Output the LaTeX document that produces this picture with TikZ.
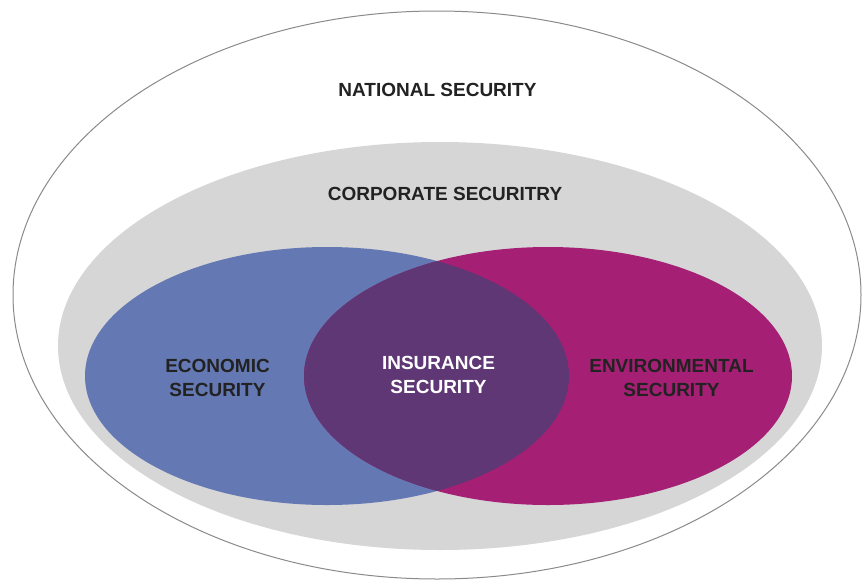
\documentclass[tikz,border=0pt]{standalone}
\usepackage{fontspec}
\setmainfont{Liberation Sans}

\definecolor{econblue}{HTML}{6479B3}
\definecolor{envmagenta}{HTML}{A51F74}
\definecolor{insurpurple}{HTML}{5F3775}
\definecolor{corpgrey}{HTML}{D6D6D6}
\definecolor{natline}{HTML}{8A8A8A}
\definecolor{labeltext}{HTML}{222222}

\tikzset{
  label/.style={align=center, font=\fontsize{19}{24}\selectfont\bfseries, text=labeltext, inner sep=0pt},
}

\begin{document}
\begin{tikzpicture}[x=1pt, y=-1pt]
  \useasboundingbox (0,0) rectangle (863,582);
  \begin{scope}
    \draw[line width=1pt, color=natline, fill=white] (437, 295) ellipse (424 and 284); % national
    \fill[corpgrey] (440, 346) ellipse (382 and 204); % corporate

    \fill[econblue] (327, 376) ellipse (242 and 129); % economic
    \fill[envmagenta] (548, 376) ellipse (244 and 129); % environmental
    \begin{scope}
      \clip (327, 376) ellipse (242 and 129);
      \fill[insurpurple] (548, 376) ellipse (244 and 129); % insurance
    \end{scope}

    \node[label] (national) at (437.5, 90) {NATIONAL SECURITY};
    \node[label] (corporate) at (445, 194) {CORPORATE SECURITRY};
    \node[label] (economic) at (217.5, 378) {ECONOMIC\\SECURITY};
    \node[label, text=white] (insurance) at (438.5, 375) {INSURANCE\\SECURITY};
    \node[label] (environmental) at (671.5, 378) {ENVIRONMENTAL\\SECURITY};
  \end{scope}
\end{tikzpicture}
\end{document}
